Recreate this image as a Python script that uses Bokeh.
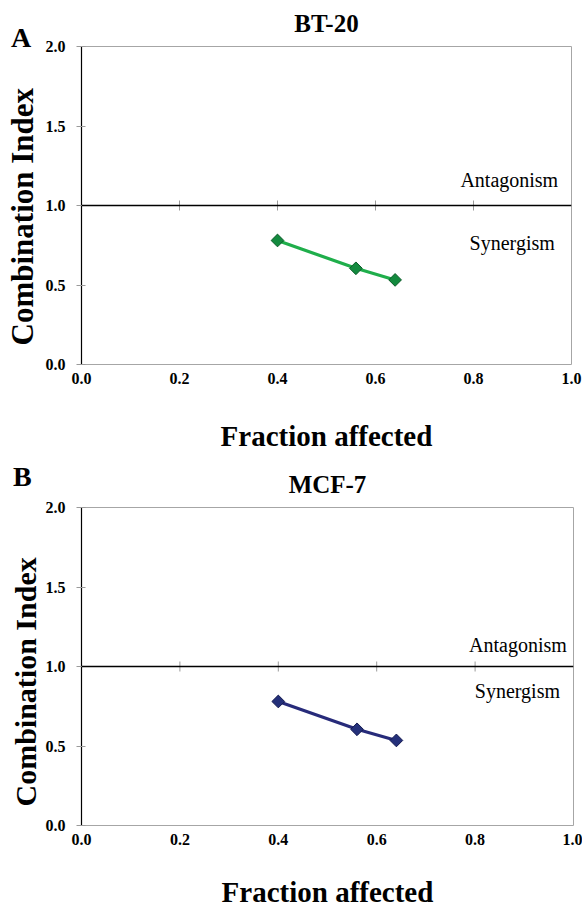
import math
from bokeh.plotting import figure
from bokeh.layouts import column
from bokeh.models import (Range1d, Span, Label, Title, FixedTicker, NumeralTickFormatter,
                          ColumnDataSource, Div)
from bokeh.embed import file_html
from bokeh.resources import INLINE

# ---- data ----
fraction_affected = [0.40, 0.56, 0.64]
ci_bt20 = [0.78, 0.605, 0.532]
ci_mcf7 = [0.78, 0.605, 0.535]
x_ticks = [0.0, 0.2, 0.4, 0.6, 0.8, 1.0]
y_ticks = [0.0, 0.5, 1.0, 1.5, 2.0]
reference_ci = 1.0
panel_letters = ["A", "B"]
cell_lines = ["BT-20", "MCF-7"]

FONT = "Liberation Serif"


def make_panel(title, ys, line_color, marker_fill, marker_line, fw,
               left, right, top, bottom, ant_pos, syn_pos, xlab_standoff,
               ytitle_size, ytitle_standoff):
    p = figure(frame_width=fw, frame_height=318,
               x_range=Range1d(0, 1), y_range=Range1d(0, 2),
               output_backend="svg", toolbar_location=None,
               min_border_left=left, min_border_right=right,
               min_border_top=top, min_border_bottom=bottom)
    p.title.text = ""
    p.background_fill_color = "white"
    p.border_fill_color = "white"
    p.outline_line_color = "#a6a6a6"
    p.outline_line_width = 1
    p.xgrid.visible = False
    p.ygrid.visible = False

    # y axis
    ya = p.yaxis[0]
    ya.ticker = FixedTicker(ticks=y_ticks)
    ya.formatter = NumeralTickFormatter(format="0.0")
    ya.axis_line_color = "black"
    ya.axis_line_width = 1.2
    ya.major_tick_line_color = "#9a9a9a"
    ya.major_tick_in = 4
    ya.major_tick_out = 5
    ya.minor_tick_line_color = None
    ya.major_label_standoff = 11
    ya.major_label_text_font = FONT
    ya.major_label_text_font_style = "bold"
    ya.major_label_text_font_size = "16px"
    ya.major_label_text_color = "black"

    # x axis (labels at bottom, tick marks on the CI = 1 line)
    xa = p.xaxis[0]
    xa.ticker = FixedTicker(ticks=x_ticks)
    xa.formatter = NumeralTickFormatter(format="0.0")
    xa.axis_line_color = None
    xa.major_tick_line_color = None
    xa.major_tick_in = 0
    xa.major_tick_out = 0
    xa.minor_tick_line_color = None
    xa.major_label_standoff = 8
    xa.major_label_text_font = FONT
    xa.major_label_text_font_style = "bold"
    xa.major_label_text_font_size = "16px"
    xa.major_label_text_color = "black"
    xa.axis_label = "Fraction affected"
    xa.axis_label_standoff = xlab_standoff
    xa.axis_label_text_font = FONT
    xa.axis_label_text_font_style = "bold"
    xa.axis_label_text_font_size = "29px"
    xa.axis_label_text_color = "black"

    p.add_layout(Span(location=reference_ci, dimension="width",
                      line_color="black", line_width=1.3))
    p.scatter(x=x_ticks[1:-1], y=[reference_ci] * (len(x_ticks) - 2), marker="dash",
              angle=math.pi / 2, size=10, line_color="#9a9a9a", line_width=1)

    src = ColumnDataSource(dict(x=fraction_affected, y=ys))
    p.line("x", "y", source=src, line_color=line_color, line_width=3.2)
    p.scatter("x", "y", source=src, marker="square", angle=math.pi / 4, size=9,
              fill_color=marker_fill, line_color=marker_line, line_width=1)

    common = dict(text_font=FONT, text_color="black", text_baseline="alphabetic",
                  text_align="center")
    p.add_layout(Label(x=ant_pos[0], y=ant_pos[1], text="Antagonism",
                       text_font_size="20px", **common))
    p.add_layout(Label(x=syn_pos[0], y=syn_pos[1], text="Synergism",
                       text_font_size="20px", **common))

    # chart title
    p.add_layout(Title(text=title, align="center", vertical_align="top", standoff=15,
                       text_font=FONT, text_font_style="bold", text_font_size="25px",
                       text_color="black"), "above")
    # y axis title
    p.add_layout(Title(text="Combination Index", align="left", offset=19,
                       vertical_align="middle", standoff=ytitle_standoff,
                       text_font=FONT, text_font_style="bold",
                       text_font_size=ytitle_size, text_color="black"), "left")
    return p


def letter_div(letter, left, top):
    html = ('<span style="font-family:\'Liberation Serif\';font-size:28px;'
            'font-weight:bold;line-height:1;color:black">%s</span>' % letter)
    return Div(text=html, width=30, height=30,
               styles={"position": "absolute", "left": "%dpx" % left, "top": "%dpx" % top,
                       "z-index": "10", "margin": "0", "padding": "0"})


pA = make_panel(cell_lines[0], ci_bt20, "#1fae4b", "#138a3e", "#0b5a28", 490,
                left=81, right=11, top=46, bottom=96,
                ant_pos=(0.873, 1.163), syn_pos=(0.879, 0.767), xlab_standoff=33,
                ytitle_size="31px", ytitle_standoff=4)
pB = make_panel(cell_lines[1], ci_mcf7, "#272b7a", "#24307a", "#141a50", 492,
                left=77, right=13, top=47, bottom=85,
                ant_pos=(0.887, 1.138), syn_pos=(0.886, 0.843), xlab_standoff=28,
                ytitle_size="30px", ytitle_standoff=0)

divA = letter_div(panel_letters[0], 11, 24)
divB = letter_div(panel_letters[1], 13, 463)

layout = column(pA, pB, divA, divB, spacing=0)
open("out.html", "w").write(file_html(layout, INLINE))
